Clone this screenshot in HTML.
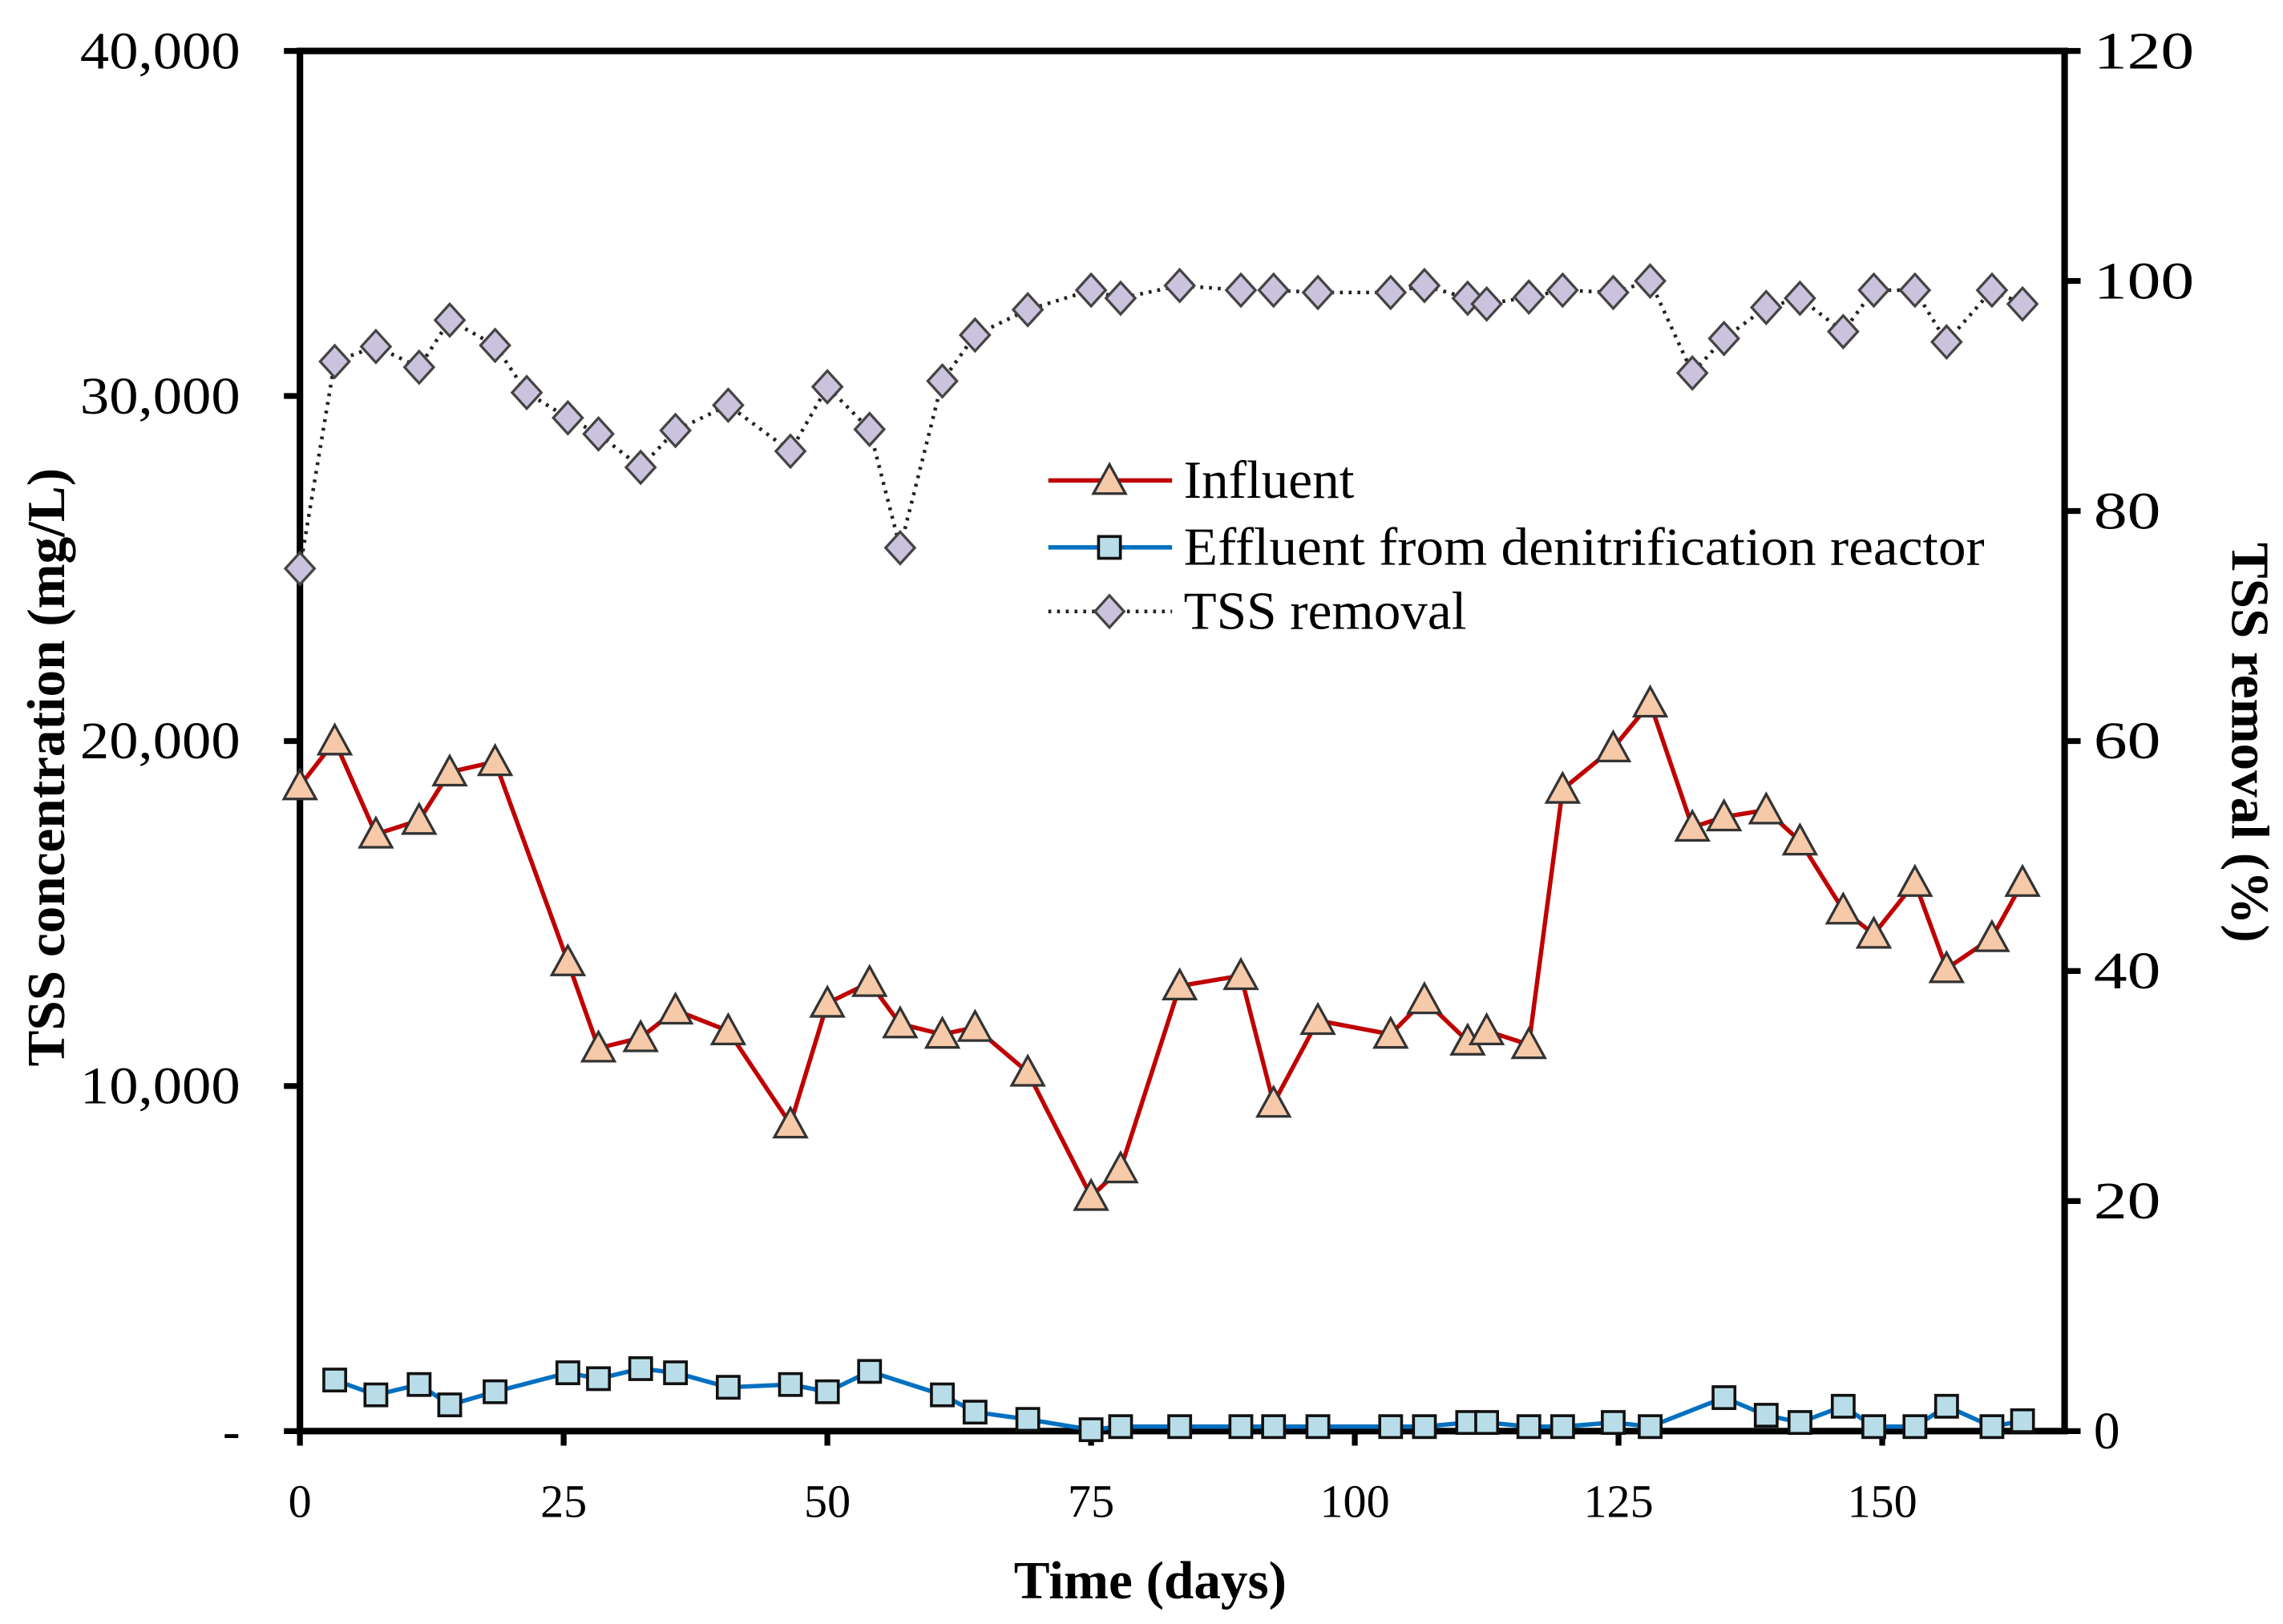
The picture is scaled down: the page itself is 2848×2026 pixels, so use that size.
<!DOCTYPE html>
<html><head><meta charset="utf-8"><style>
html,body{margin:0;padding:0;background:#fff;}
svg{display:block;}
text{font-family:"Liberation Serif",serif;fill:#000;}
</style></head><body>
<svg id="chart" width="2848" height="2026" viewBox="0 0 1568 1115.5" preserveAspectRatio="none" xmlns="http://www.w3.org/2000/svg">
<g id="plot"></g>
</svg>
<script>
const infDays=[0,3.3,7.2,11.3,14.2,18.5,25.4,28.3,32.3,35.6,40.6,46.5,50,54,56.9,60.9,64,69,75,77.8,83.4,89.2,92.3,96.5,103.4,106.6,110.7,112.5,116.5,119.7,124.5,128,132,135,139,142.2,146.3,149.2,153.1,156.1,160.4,163.3];
const infVals=[18700,20000,17300,17700,19100,19400,13600,11100,11400,12200,11600,8900,12400,13000,11800,11500,11700,10400,6800,7600,12900,13200,9500,11900,11500,12500,11300,11600,11200,18600,19800,21100,17500,17800,18000,17100,15100,14400,15900,13400,14300,15900];
const effDays=[3.3,7.2,11.3,14.2,18.5,25.4,28.3,32.3,35.6,40.6,46.5,50,54,60.9,64,69,75,77.8,83.4,89.2,92.3,96.5,103.4,106.6,110.7,112.5,116.5,119.7,124.5,128,135,139,142.2,146.3,149.2,153.1,156.1,160.4,163.3];
const effVals=[1480,1050,1350,760,1140,1690,1520,1810,1690,1270,1350,1140,1730,1050,550,340,40,130,130,130,130,130,130,130,250,250,130,130,250,130,970,460,250,720,130,130,720,130,300];
const remDays=[0,3.3,7.2,11.3,14.2,18.5,21.5,25.4,28.3,32.3,35.6,40.6,46.5,50,54,56.9,60.9,64,69,75,77.8,83.4,89.2,92.3,96.5,103.4,106.6,110.7,112.5,116.5,119.7,124.5,128,132,135,139,142.2,146.3,149.2,153.1,156.1,160.4,163.3];
const remVals=[75,93,94.3,92.5,96.6,94.4,90.3,88.1,86.7,83.8,87,89.2,85.2,90.8,87.1,76.8,91.3,95.3,97.5,99.2,98.5,99.6,99.2,99.2,99,99,99.6,98.5,98,98.6,99.2,99,100,92,95,97.7,98.5,95.6,99.2,99.2,94.7,99.2,98];
const xTicks=[0,25,50,75,100,125,150];
const yLeftTicks=[0,10000,20000,30000,40000];
const yLeftLabels=["-","10,000","20,000","30,000","40,000"];
const yRightTicks=[0,20,40,60,80,100,120];

const L=206,R=1418,T=35,B=983;
const xs=d=>L+d*7.245;
const yl=v=>B-(v/40000)*(B-T);
const yr=v=>B-(v/120)*(B-T);
const NS="http://www.w3.org/2000/svg";
const g=document.getElementById('plot');
function mk(tag,attrs,parent){const e=document.createElementNS(NS,tag);for(const k in attrs)e.setAttribute(k,attrs[k]);(parent||g).appendChild(e);return e;}
function txt(s,attrs){const e=mk('text',attrs);e.textContent=s;return e;}

let e=mk('rect',{x:L,y:T,width:R-L,height:B-T,fill:'none',stroke:'#000','stroke-width':4.5});



yLeftTicks.forEach((v,i)=>{
  let t=mk('line',{x1:L-11,x2:L,y1:yl(v),y2:yl(v),stroke:'#000','stroke-width':4});
  
  
  const a={x:165,y:yl(v)+12,'text-anchor':'end','font-size':36};
  if(yLeftLabels[i].length>1){a.textLength=110;a.lengthAdjust='spacingAndGlyphs';}
  let lb=txt(yLeftLabels[i],a);
  
  
});
yRightTicks.forEach(v=>{
  let t=mk('line',{x1:R,x2:R+11,y1:yr(v),y2:yr(v),stroke:'#000','stroke-width':4});
  
  
  const s=String(v);
  const a={x:1438,y:yr(v)+12,'text-anchor':'start','font-size':36};
  if(s.length>1){a.textLength=s.length*23;a.lengthAdjust='spacingAndGlyphs';}
  let lb=txt(s,a);
  
  
});
xTicks.forEach(v=>{
  let t=mk('line',{x1:xs(v),x2:xs(v),y1:B,y2:B+10,stroke:'#000','stroke-width':4});
  
  
  let lb=txt(String(v),{x:xs(v),y:1042,'text-anchor':'middle','font-size':32});
  
  
});

e=txt('Time (days)',{x:790,y:1098,'text-anchor':'middle','font-size':37,'font-weight':'bold'});


e=txt('TSS concentration  (mg/L)',{x:0,y:0,'text-anchor':'middle','font-size':37,'font-weight':'bold',transform:'translate(44,527) rotate(-90)'});


e=txt('TSS removal (%)',{x:0,y:0,'text-anchor':'middle','font-size':37,'font-weight':'bold',transform:'translate(1533,510) rotate(90)'});



function poly(days,vals,yf,stroke,extra){
  const pts=days.map((d,i)=>xs(d)+','+yf(vals[i])).join(' ');
  const a={points:pts,fill:'none',stroke:stroke,'stroke-width':3};
  for(const k in extra)a[k]=extra[k];
  return mk('polyline',a);
}
function tri(x,y){return mk('polygon',{points:`${x},${y-11} ${x-11},${y+9} ${x+11},${y+9}`,fill:'#f6c9a8',stroke:'#333','stroke-width':1.8});}
function sq(x,y){return mk('rect',{x:x-7.5,y:y-7.5,width:15,height:15,fill:'#b9dde8',stroke:'#111','stroke-width':2});}
function dia(x,y){return mk('polygon',{points:`${x},${y-11} ${x+10},${y} ${x},${y+11} ${x-10},${y}`,fill:'#cbc3dd',stroke:'#444','stroke-width':1.8});}

e=poly(remDays,remVals,yr,'#222',{'stroke-dasharray':'2 4','stroke-width':2.5});


remDays.forEach((d,i)=>{const m=dia(xs(d),yr(remVals[i]));
  
  });
e=poly(infDays,infVals,yl,'#c00000',{});


infDays.forEach((d,i)=>{const m=tri(xs(d),yl(infVals[i]));
  
  });
e=poly(effDays,effVals,yl,'#0070c0',{});


effDays.forEach((d,i)=>{const m=sq(xs(d),yl(effVals[i]));
  
  });

const lg=mk('g',{});


e=mk('line',{x1:720,x2:805,y1:330,y2:330,stroke:'#c00000','stroke-width':3},lg);


e=tri(762,330);lg.appendChild(e);
e=txt('Influent',{x:813,y:342,'font-size':37});lg.appendChild(e);


e=mk('line',{x1:720,x2:805,y1:376,y2:376,stroke:'#0070c0','stroke-width':3},lg);


e=sq(762,376);lg.appendChild(e);
e=txt('Effluent from  denitrification reactor',{x:813,y:388,'font-size':37,textLength:550,lengthAdjust:'spacingAndGlyphs'});lg.appendChild(e);


e=mk('line',{x1:720,x2:805,y1:420,y2:420,stroke:'#222','stroke-width':2.5,'stroke-dasharray':'2 4'},lg);


e=dia(762,420);lg.appendChild(e);
e=txt('TSS removal',{x:813,y:432,'font-size':37});lg.appendChild(e);


</script>
</body></html>
